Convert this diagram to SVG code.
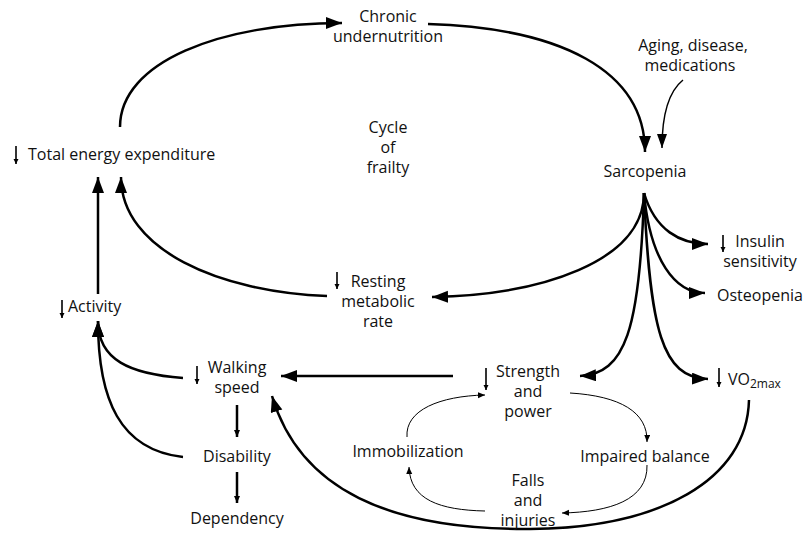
<svg xmlns="http://www.w3.org/2000/svg" width="809" height="533" viewBox="0 0 809 533">
<style>
text{font-family:"Open Sans","Noto Sans","Liberation Sans",sans-serif;font-size:16px;fill:#111}
.m{text-anchor:middle}
.thick{fill:none;stroke:#000;stroke-width:2.5}
.mid{fill:none;stroke:#000;stroke-width:1.5}
.thin{fill:none;stroke:#000;stroke-width:1}
.dn{fill:none;stroke:#000;stroke-width:1.6}
</style>
<defs>
<marker id="big" markerUnits="userSpaceOnUse" markerWidth="17" markerHeight="13" refX="16" refY="6" orient="auto"><path d="M0,0 L16,6 L0,12 z" fill="#000"/></marker>
<marker id="med" markerUnits="userSpaceOnUse" markerWidth="15" markerHeight="11" refX="14" refY="5" orient="auto"><path d="M0,0 L14,5 L0,10 z" fill="#000"/></marker>
<marker id="small" markerUnits="userSpaceOnUse" markerWidth="8" markerHeight="7" refX="7" refY="3" orient="auto"><path d="M0,0 L7,3 L0,6 z" fill="#000"/></marker>
<marker id="tiny" markerUnits="userSpaceOnUse" markerWidth="6" markerHeight="6" refX="5" refY="2.5" orient="auto"><path d="M0,0 L5,2.5 L0,5 z" fill="#000"/></marker>
</defs>

<g id="connectors">
<path class="thick" d="M120,127 C120,62 220,23 342,23" marker-end="url(#big)"/>
<path class="thick" d="M428,24 C560,28 645,70 645,152" marker-end="url(#big)"/>
<path class="mid" d="M683,80 C668,92 662,115 662,148" marker-end="url(#med)"/>
<path class="thick" d="M644,193 C644,262 540,295 432,297" marker-end="url(#big)"/>
<path class="thick" d="M644,193 C655,230 680,244 708,244" marker-end="url(#big)"/>
<path class="thick" d="M644,193 C650,260 675,293 705,293" marker-end="url(#big)"/>
<path class="thick" d="M644,193 C640,330 625,374 580,376" marker-end="url(#big)"/>
<path class="thick" d="M644,193 C650,330 662,378 708,379" marker-end="url(#big)"/>
<path class="thick" d="M327,296 C220,292 121,250 121,177" marker-end="url(#big)"/>
<path class="thick" d="M98,294 L98,177" marker-end="url(#big)"/>
<path class="thick" d="M183,378 C130,374 98,360 98,321" marker-end="url(#big)"/>
<path class="thick" d="M183,457 C120,450 98,400 98,321" marker-end="url(#big)"/>
<path class="thick" d="M453,376 L281,376" marker-end="url(#big)"/>
<path class="thick" d="M237,405 L237,437" marker-end="url(#small)"/>
<path class="thick" d="M237,472 L237,503" marker-end="url(#small)"/>
<path class="thick" d="M749,400 C747,480 660,528 530,529 C390,530 300,490 272,396" marker-end="url(#big)"/>
<path class="thin" d="M407,437 C405,410 440,396 485,395" marker-end="url(#small)"/>
<path class="thin" d="M570,393 C620,396 648,412 647,442" marker-end="url(#small)"/>
<path class="thin" d="M647,465 C648,500 610,512 562,513" marker-end="url(#small)"/>
<path class="thin" d="M485,511 C440,510 410,500 409,467" marker-end="url(#small)"/>
</g>

<g id="chronic-undernutrition">
<text class="m" x="388" y="22">Chronic</text>
<text class="m" x="388" y="42">undernutrition</text>
</g>
<g id="aging">
<text class="m" x="693" y="51">Aging, disease,</text>
<text class="m" x="690" y="71">medications</text>
</g>
<g id="cycle-of-frailty">
<text class="m" x="388" y="133">Cycle</text>
<text class="m" x="388" y="153">of</text>
<text class="m" x="388" y="173">frailty</text>
</g>
<g id="sarcopenia">
<text class="m" x="645" y="177">Sarcopenia</text>
</g>
<g id="total-energy-expenditure">
<path class="dn" d="M16,146 L16,164" marker-end="url(#tiny)"/>
<text x="28" y="160">Total energy expenditure</text>
</g>
<g id="resting-metabolic-rate">
<path class="dn" d="M337,272 L337,289" marker-end="url(#tiny)"/>
<text class="m" x="378" y="287">Resting</text>
<text class="m" x="378" y="307">metabolic</text>
<text class="m" x="378" y="327">rate</text>
</g>
<g id="insulin-sensitivity">
<path class="dn" d="M723,235 L723,252" marker-end="url(#tiny)"/>
<text class="m" x="760" y="247">Insulin</text>
<text class="m" x="760" y="267">sensitivity</text>
</g>
<g id="osteopenia">
<text x="717" y="301">Osteopenia</text>
</g>
<g id="activity">
<path class="dn" d="M62,300 L62,318" marker-end="url(#tiny)"/>
<text x="68" y="312">Activity</text>
</g>
<g id="walking-speed">
<path class="dn" d="M197,366 L197,384" marker-end="url(#tiny)"/>
<text class="m" x="237" y="373">Walking</text>
<text class="m" x="237" y="393">speed</text>
</g>
<g id="strength-and-power">
<path class="dn" d="M486,368 L486,390" marker-end="url(#tiny)"/>
<text class="m" x="528" y="377">Strength</text>
<text class="m" x="528" y="397">and</text>
<text class="m" x="528" y="417">power</text>
</g>
<g id="vo2max">
<path class="dn" d="M719,368 L719,387" marker-end="url(#tiny)"/>
<text x="728" y="385">VO<tspan font-size="12" dy="3">2max</tspan></text>
</g>
<g id="disability">
<text class="m" x="237" y="462">Disability</text>
</g>
<g id="dependency">
<text class="m" x="237" y="524">Dependency</text>
</g>
<g id="immobilization">
<text class="m" x="408" y="457">Immobilization</text>
</g>
<g id="impaired-balance">
<text class="m" x="645" y="462">Impaired balance</text>
</g>
<g id="falls-and-injuries">
<text class="m" x="528" y="486">Falls</text>
<text class="m" x="528" y="506">and</text>
<text class="m" x="528" y="526">injuries</text>
</g>
</svg>
